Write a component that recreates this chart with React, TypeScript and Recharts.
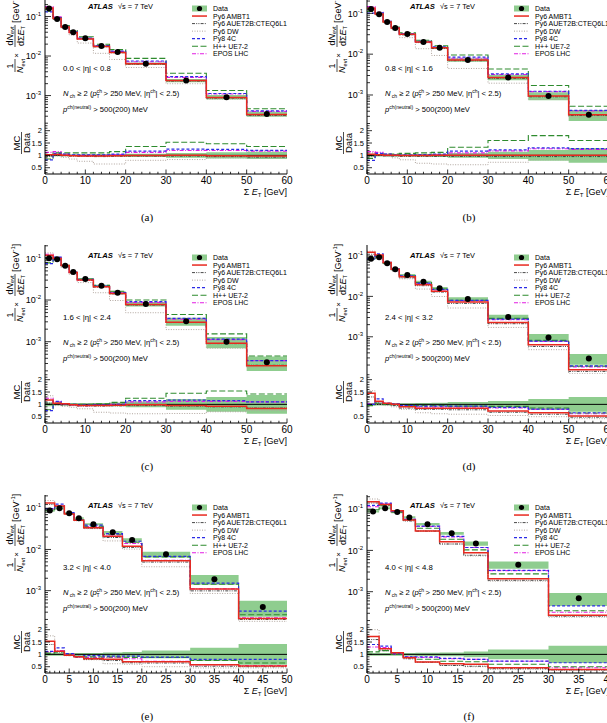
import React from 'react';
import { Area, ComposedChart, Line, ReferenceLine, Scatter, XAxis, YAxis } from 'recharts';

const FONT = '"Liberation Sans", Arial, Helvetica, sans-serif';
const BAND = '#8fcd8f';

/* ─────────────── bins and ticks ─────────────── */

const EDGES_60 = [0, 2, 4, 6, 8, 12, 16, 20, 30, 40, 50, 60];
const EDGES_50 = [0, 2, 4, 6, 8, 12, 16, 20, 30, 40, 50];
const EDGES_40 = [0, 2, 4, 6, 8, 12, 16, 20, 30, 40];

const X_TICKS_60 = [0, 2, 4, 6, 8, 10, 12, 14, 16, 18, 20, 22, 24, 26, 28, 30, 32, 34, 36, 38, 40, 42, 44, 46, 48, 50, 52, 54, 56, 58, 60];
const X_TICKS_50 = [0, 1, 2, 3, 4, 5, 6, 7, 8, 9, 10, 11, 12, 13, 14, 15, 16, 17, 18, 19, 20, 21, 22, 23, 24, 25, 26, 27, 28, 29, 30, 31, 32, 33, 34, 35, 36, 37, 38, 39, 40, 41, 42, 43, 44, 45, 46, 47, 48, 49, 50];
const X_TICKS_40 = [0, 1, 2, 3, 4, 5, 6, 7, 8, 9, 10, 11, 12, 13, 14, 15, 16, 17, 18, 19, 20, 21, 22, 23, 24, 25, 26, 27, 28, 29, 30, 31, 32, 33, 34, 35, 36, 37, 38, 39, 40];

const LOG_TICKS = [
  0.0001, 0.0002, 0.0003, 0.0004, 0.0005, 0.0006, 0.0007, 0.0008, 0.0009,
  0.001, 0.002, 0.003, 0.004, 0.005, 0.006, 0.007, 0.008, 0.009,
  0.01, 0.02, 0.03, 0.04, 0.05, 0.06, 0.07, 0.08, 0.09,
  0.1, 0.2, 0.3, 0.4,
];
const RATIO_TICKS = [0.3, 0.4, 0.5, 0.6, 0.7, 0.8, 0.9, 1, 1.1, 1.2, 1.3, 1.4, 1.5, 1.6, 1.7, 1.8, 1.9, 2, 2.1, 2.2];

/* ─────────────── (a) 0.0 < |eta| < 0.8 ─────────────── */
const A_DATA = [0.16, 0.086, 0.054, 0.04, 0.028, 0.018, 0.0126, 0.0064, 0.0024, 0.00091, 0.00034];
const A_ERR = [0.05, 0.04, 0.04, 0.04, 0.04, 0.05, 0.05, 0.07, 0.1, 0.13, 0.15];
const A_AMBT1 = [1.02, 1.03, 1.0, 0.98, 0.97, 0.97, 0.98, 0.99, 1.0, 0.98, 0.97];
const A_AUET = [0.95, 1.0, 0.98, 0.97, 0.96, 0.95, 0.96, 0.97, 0.97, 0.95, 0.93];
const A_DW = [1.0, 0.98, 0.92, 0.85, 0.76, 0.65, 0.65, 0.8, 0.83, 0.9, 0.9];
const A_PY8 = [0.82, 1.08, 1.05, 1.02, 1.02, 1.02, 1.05, 1.17, 1.25, 1.24, 1.2];
const A_HPP = [0.85, 1.1, 1.1, 1.1, 1.1, 1.1, 1.15, 1.36, 1.53, 1.47, 1.36];
const A_EPOS = [1.12, 1.15, 1.05, 1.0, 1.0, 1.0, 1.03, 1.12, 1.2, 1.2, 1.17];

/* ─────────────── (b) 0.8 < |eta| < 1.6 ─────────────── */
const B_DATA = [0.127, 0.095, 0.061, 0.044, 0.031, 0.02, 0.0143, 0.0072, 0.0027, 0.00095, 0.00033];
const B_ERR = [0.06, 0.05, 0.05, 0.05, 0.05, 0.06, 0.07, 0.1, 0.15, 0.22, 0.3];
const B_AMBT1 = [1.05, 1.02, 1.0, 1.0, 0.99, 0.99, 1.0, 1.0, 1.0, 1.0, 1.0];
const B_AUET = [0.97, 1.0, 0.98, 0.97, 0.96, 0.96, 0.96, 0.96, 0.95, 0.95, 0.95];
const B_DW = [1.1, 1.0, 0.95, 0.9, 0.82, 0.68, 0.65, 0.62, 0.72, 0.82, 0.85];
const B_PY8 = [0.8, 1.08, 1.05, 1.02, 1.02, 1.03, 1.05, 1.17, 1.22, 1.3, 1.27];
const B_HPP = [0.88, 1.05, 1.05, 1.05, 1.08, 1.1, 1.12, 1.33, 1.6, 1.8, 1.6];
const B_EPOS = [1.15, 1.12, 1.05, 1.0, 1.0, 1.0, 1.02, 1.1, 1.18, 1.27, 1.24];

/* ─────────────── (c) 1.6 < |eta| < 2.4 ─────────────── */
const C_DATA = [0.1, 0.095, 0.066, 0.047, 0.032, 0.022, 0.015, 0.008, 0.0031, 0.001, 0.00032];
const C_ERR = [0.08, 0.05, 0.05, 0.05, 0.05, 0.06, 0.08, 0.12, 0.22, 0.3, 0.38];
const C_AMBT1 = [1.18, 1.05, 1.02, 0.98, 0.95, 0.95, 0.96, 0.98, 0.95, 0.92, 0.83];
const C_AUET = [1.05, 1.0, 0.97, 0.95, 0.93, 0.93, 0.94, 0.95, 0.93, 0.9, 0.85];
const C_DW = [1.35, 0.95, 0.92, 0.88, 0.82, 0.68, 0.65, 0.62, 0.63, 0.7, 0.75];
const C_PY8 = [0.75, 1.12, 1.02, 1.0, 0.98, 0.98, 1.0, 1.15, 1.17, 1.15, 1.1];
const C_HPP = [0.78, 1.05, 1.03, 1.0, 1.0, 1.02, 1.08, 1.25, 1.45, 1.54, 1.42];
const C_EPOS = [1.25, 1.1, 1.02, 0.98, 0.95, 0.97, 1.0, 1.1, 1.12, 1.12, 1.1];

/* ─────────────── (d) 2.4 < |eta| < 3.2 ─────────────── */
const D_DATA = [0.085, 0.093, 0.066, 0.047, 0.034, 0.023, 0.016, 0.0086, 0.0031, 0.00096, 0.00029];
const D_ERR = [0.06, 0.05, 0.05, 0.05, 0.05, 0.06, 0.07, 0.1, 0.14, 0.22, 0.3];
const D_AMBT1 = [1.45, 1.13, 1.05, 1.0, 0.9, 0.84, 0.84, 0.84, 0.73, 0.66, 0.53];
const D_AUET = [1.3, 1.05, 1.0, 0.95, 0.85, 0.8, 0.8, 0.78, 0.68, 0.6, 0.48];
const D_DW = [1.55, 1.0, 0.95, 0.9, 0.8, 0.66, 0.62, 0.6, 0.55, 0.5, 0.42];
const D_PY8 = [1.0, 1.22, 1.05, 1.02, 0.95, 0.93, 0.93, 0.93, 0.88, 0.81, 0.66];
const D_HPP = [0.95, 1.05, 1.0, 1.0, 0.95, 0.95, 0.95, 0.93, 0.92, 0.85, 0.65];
const D_EPOS = [1.02, 1.1, 1.03, 1.0, 0.93, 0.9, 0.9, 0.9, 0.85, 0.8, 0.62];

/* ─────────────── (e) 3.2 < |eta| < 4.0 ─────────────── */
const E_DATA = [0.088, 0.1, 0.076, 0.057, 0.041, 0.026, 0.017, 0.0076, 0.0019, 0.0004];
const E_ERR = [0.06, 0.06, 0.06, 0.06, 0.06, 0.08, 0.1, 0.16, 0.27, 0.42];
const E_AMBT1 = [1.53, 1.13, 0.96, 0.9, 0.82, 0.8, 0.7, 0.7, 0.58, 0.53];
const E_AUET = [1.4, 1.1, 0.95, 0.88, 0.8, 0.75, 0.66, 0.65, 0.52, 0.5];
const E_DW = [1.75, 1.1, 1.0, 0.9, 0.78, 0.62, 0.6, 0.5, 0.45, 0.45];
const E_PY8 = [1.12, 1.26, 1.03, 0.92, 0.95, 0.93, 0.93, 0.89, 0.8, 0.8];
const E_HPP = [1.05, 1.1, 0.98, 0.92, 0.9, 0.9, 0.88, 0.87, 0.75, 0.65];
const E_EPOS = [1.1, 1.15, 1.0, 0.9, 0.88, 0.87, 0.82, 0.72, 0.58, 0.55];

/* ─────────────── (f) 4.0 < |eta| < 4.8 ─────────────── */
const F_DATA = [0.088, 0.105, 0.085, 0.063, 0.043, 0.026, 0.0147, 0.0045, 0.00069];
const F_ERR = [0.06, 0.06, 0.06, 0.06, 0.07, 0.08, 0.12, 0.2, 0.35];
const F_AMBT1 = [1.72, 1.23, 1.07, 0.86, 0.69, 0.62, 0.6, 0.46, 0.39];
const F_AUET = [1.6, 1.15, 1.0, 0.82, 0.68, 0.55, 0.52, 0.42, 0.37];
const F_DW = [2.0, 1.2, 1.0, 0.85, 0.7, 0.55, 0.5, 0.4, 0.35];
const F_PY8 = [1.4, 1.33, 1.03, 0.9, 0.9, 0.84, 0.8, 0.73, 0.66];
const F_HPP = [1.1, 1.15, 1.0, 0.88, 0.8, 0.72, 0.7, 0.6, 0.5];
const F_EPOS = [1.3, 1.28, 1.02, 0.9, 0.88, 0.82, 0.8, 0.72, 0.46];

/* ─────────────── styles ─────────────── */

const MODELS = [
  { key: 'dw', name: 'Py6 DW', color: '#b0a59e', dash: '1 1.5', width: 1 },
  { key: 'auet', name: 'Py6 AUET2B:CTEQ6L1', color: '#333333', dash: '3 1.2 1 1.2 1 1.2', width: 0.9 },
  { key: 'epos', name: 'EPOS LHC', color: '#e21ee2', dash: '4 1.5 1 1.5', width: 1.1 },
  { key: 'hpp', name: 'H++ UE7-2', color: '#2e8b2e', dash: '6 2.5', width: 1.1 },
  { key: 'py8', name: 'Py8 4C', color: '#2b2be6', dash: '3 2', width: 1.2 },
  { key: 'ambt1', name: 'Py6 AMBT1', color: '#e8291f', dash: undefined, width: 1.5 },
];
const LEGEND_ORDER = ['ambt1', 'auet', 'dw', 'py8', 'hpp', 'epos'];

interface Panel {
  id: string;
  eta: string;
  left: number;
  top: number;
  edges: number[];
  xMax: number;
  xTicks: number[];
  xMajor: number;
  yDomain: [number, number];
  data: number[];
  err: number[];
  ratios: Record<string, number[]>;
}

const PANELS: Panel[] = [
  { id: 'a', eta: '0.0 < |η| < 0.8', left: 0, top: -4, edges: EDGES_60, xMax: 60, xTicks: X_TICKS_60, xMajor: 10, yDomain: [1.8e-4, 0.33], data: A_DATA, err: A_ERR, ratios: { ambt1: A_AMBT1, auet: A_AUET, dw: A_DW, py8: A_PY8, hpp: A_HPP, epos: A_EPOS } },
  { id: 'b', eta: '0.8 < |η| < 1.6', left: 322, top: -4, edges: EDGES_60, xMax: 60, xTicks: X_TICKS_60, xMajor: 10, yDomain: [1.84e-4, 0.266], data: B_DATA, err: B_ERR, ratios: { ambt1: B_AMBT1, auet: B_AUET, dw: B_DW, py8: B_PY8, hpp: B_HPP, epos: B_EPOS } },
  { id: 'c', eta: '1.6 < |η| < 2.4', left: 0, top: 245, edges: EDGES_60, xMax: 60, xTicks: X_TICKS_60, xMajor: 10, yDomain: [1.68e-4, 0.209], data: C_DATA, err: C_ERR, ratios: { ambt1: C_AMBT1, auet: C_AUET, dw: C_DW, py8: C_PY8, hpp: C_HPP, epos: C_EPOS } },
  { id: 'd', eta: '2.4 < |η| < 3.2', left: 322, top: 245, edges: EDGES_60, xMax: 60, xTicks: X_TICKS_60, xMajor: 10, yDomain: [1.2e-4, 0.187], data: D_DATA, err: D_ERR, ratios: { ambt1: D_AMBT1, auet: D_AUET, dw: D_DW, py8: D_PY8, hpp: D_HPP, epos: D_EPOS } },
  { id: 'e', eta: '3.2 < |η| < 4.0', left: 0, top: 495, edges: EDGES_50, xMax: 50, xTicks: X_TICKS_50, xMajor: 5, yDomain: [1.55e-4, 0.21], data: E_DATA, err: E_ERR, ratios: { ambt1: E_AMBT1, auet: E_AUET, dw: E_DW, py8: E_PY8, hpp: E_HPP, epos: E_EPOS } },
  { id: 'f', eta: '4.0 < |η| < 4.8', left: 322, top: 495, edges: EDGES_40, xMax: 40, xTicks: X_TICKS_40, xMajor: 5, yDomain: [1.65e-4, 0.22], data: F_DATA, err: F_ERR, ratios: { ambt1: F_AMBT1, auet: F_AUET, dw: F_DW, py8: F_PY8, hpp: F_HPP, epos: F_EPOS } },
];

const PLOT_W = 242;
const MAIN_H = 129;
const RATIO_H = 49;
const Y_AXIS_W = 45;
const RIGHT_PAD = 12;
const AXIS = { stroke: '#000', strokeWidth: 1 };

// histogram rows at the bin edges; the last edge repeats the last bin so stepAfter closes it
function stepRows(p: Panel, ratio: boolean) {
  return p.edges.map((x, i) => {
    const j = Math.min(i, p.data.length - 1);
    const s = ratio ? 1 : p.data[j];
    const row: Record<string, unknown> = { x, band: [s * (1 - p.err[j]), s * (1 + p.err[j])] };
    MODELS.forEach((m) => {
      row[m.key] = p.ratios[m.key][j] * s;
    });
    return row;
  });
}

/* ─────────────── ticks (ROOT style, inside the frame) ─────────────── */

const xTick = (side: 'top' | 'bottom', major: number, len: number, labels: boolean) =>
  function XTick(props: any) {
    const { x, y, payload } = props;
    const v = payload.value as number;
    const isMajor = Math.abs(v / major - Math.round(v / major)) < 1e-6;
    const l = isMajor ? len : len / 2;
    const dir = side === 'bottom' ? -1 : 1;
    return (
      <g>
        <line x1={x} x2={x} y1={y} y2={y + dir * l} stroke="#000" strokeWidth={0.8} />
        {labels && isMajor && (
          <text x={x} y={y + 10} textAnchor="middle" fontSize={10} fontFamily={FONT} fill="#000">
            {v}
          </text>
        )}
      </g>
    );
  };

const logTick = (side: 'left' | 'right') =>
  function LogTick(props: any) {
    const { x, y, payload } = props;
    const v = payload.value as number;
    const e = Math.log10(v);
    const isMajor = Math.abs(e - Math.round(e)) < 1e-6;
    const dir = side === 'left' ? 1 : -1;
    const l = isMajor ? 6 : 3;
    return (
      <g>
        <line x1={x} x2={x + dir * l} y1={y} y2={y} stroke="#000" strokeWidth={0.8} />
        {side === 'left' && isMajor && (
          <text x={x - 4} y={y + 3.2} textAnchor="end" fontSize={9} fontFamily={FONT} fill="#000">
            10<tspan dy={-4} fontSize={6}>{Math.round(e)}</tspan>
          </text>
        )}
      </g>
    );
  };

const ratioTick = (side: 'left' | 'right') =>
  function RatioTick(props: any) {
    const { x, y, payload } = props;
    const v = payload.value as number;
    const isMajor = Math.abs(v * 2 - Math.round(v * 2)) < 1e-6;
    const dir = side === 'left' ? 1 : -1;
    const l = isMajor ? 5 : 2.5;
    return (
      <g>
        <line x1={x} x2={x + dir * l} y1={y} y2={y} stroke="#000" strokeWidth={0.8} />
        {side === 'left' && isMajor && (
          <text x={x - 3} y={y + 2.6} textAnchor="end" fontSize={7.5} fontFamily={FONT} fill="#000">
            {v}
          </text>
        )}
      </g>
    );
  };

function Dot(props: any) {
  return <circle cx={props.cx} cy={props.cy} r={3} fill="#000" />;
}

/* ─────────────── plots ─────────────── */

function MainPlot({ p }: { p: Panel }) {
  const rows = stepRows(p, false);
  const points = p.data.map((y, i) => ({ x: (p.edges[i] + p.edges[i + 1]) / 2, y }));
  const yTicks = LOG_TICKS.filter((v) => v >= p.yDomain[0] && v <= p.yDomain[1]);
  return (
    <ComposedChart width={Y_AXIS_W + PLOT_W + RIGHT_PAD} height={MAIN_H + 1} data={rows} margin={{ top: 0, right: RIGHT_PAD, bottom: 1, left: 0 }}>
      <XAxis xAxisId="b" dataKey="x" type="number" domain={[0, p.xMax]} allowDataOverflow ticks={p.xTicks} interval={0} height={0} tickSize={0} tickMargin={0} tickLine={false} axisLine={AXIS} tick={xTick('bottom', p.xMajor, 5, false)} />
      <XAxis xAxisId="t" orientation="top" type="number" domain={[0, p.xMax]} allowDataOverflow ticks={p.xTicks} interval={0} height={0} tickSize={0} tickMargin={0} tickLine={false} axisLine={AXIS} tick={xTick('top', p.xMajor, 5, false)} />
      <YAxis yAxisId="l" type="number" scale="log" domain={p.yDomain} allowDataOverflow ticks={yTicks} interval={0} width={Y_AXIS_W} tickSize={0} tickMargin={0} tickLine={false} axisLine={AXIS} tick={logTick('left')} />
      <YAxis yAxisId="r" orientation="right" type="number" scale="log" domain={p.yDomain} allowDataOverflow ticks={yTicks} interval={0} width={0} tickSize={0} tickMargin={0} tickLine={false} axisLine={AXIS} tick={logTick('right')} />
      <Area xAxisId="b" yAxisId="l" dataKey="band" type="stepAfter" fill={BAND} fillOpacity={1} stroke="none" isAnimationActive={false} />
      {MODELS.map((m) => (
        <Line key={m.key} xAxisId="b" yAxisId="l" dataKey={m.key} type="stepAfter" stroke={m.color} strokeWidth={m.width} strokeDasharray={m.dash} dot={false} activeDot={false} isAnimationActive={false} />
      ))}
      <Scatter xAxisId="b" yAxisId="l" data={points} dataKey="y" shape={Dot} isAnimationActive={false} />
    </ComposedChart>
  );
}

function RatioPlot({ p }: { p: Panel }) {
  const rows = stepRows(p, true);
  return (
    <ComposedChart width={Y_AXIS_W + PLOT_W + RIGHT_PAD} height={RATIO_H + 21} data={rows} margin={{ top: 0, right: RIGHT_PAD, bottom: 0, left: 0 }}>
      <XAxis xAxisId="b" dataKey="x" type="number" domain={[0, p.xMax]} allowDataOverflow ticks={p.xTicks} interval={0} height={21} tickSize={0} tickMargin={0} tickLine={false} axisLine={AXIS} tick={xTick('bottom', p.xMajor, 4.5, true)} />
      <XAxis xAxisId="t" orientation="top" type="number" domain={[0, p.xMax]} allowDataOverflow ticks={p.xTicks} interval={0} height={0} tickSize={0} tickMargin={0} tickLine={false} axisLine={AXIS} tick={xTick('top', p.xMajor, 4.5, false)} />
      <YAxis yAxisId="l" type="number" domain={[0.245, 2.23]} allowDataOverflow ticks={RATIO_TICKS} interval={0} width={Y_AXIS_W} tickSize={0} tickMargin={0} tickLine={false} axisLine={AXIS} tick={ratioTick('left')} />
      <YAxis yAxisId="r" orientation="right" type="number" domain={[0.245, 2.23]} allowDataOverflow ticks={RATIO_TICKS} interval={0} width={0} tickSize={0} tickMargin={0} tickLine={false} axisLine={AXIS} tick={ratioTick('right')} />
      <Area xAxisId="b" yAxisId="l" dataKey="band" type="stepAfter" fill={BAND} fillOpacity={1} stroke="none" isAnimationActive={false} />
      <ReferenceLine xAxisId="b" yAxisId="l" y={1} stroke="#000" strokeWidth={1} />
      {MODELS.map((m) => (
        <Line key={m.key} xAxisId="b" yAxisId="l" dataKey={m.key} type="stepAfter" stroke={m.color} strokeWidth={m.width} strokeDasharray={m.dash} dot={false} activeDot={false} isAnimationActive={false} />
      ))}
    </ComposedChart>
  );
}

/* ─────────────── labels, legend, titles ─────────────── */

function Annotations({ p }: { p: Panel }) {
  const lx = 192;
  const tx = 213;
  const ly = 12.5;
  const dy = 7.55;
  const x0 = Y_AXIS_W;
  return (
    <svg width={340} height={235} style={{ position: 'absolute', left: 0, top: 0, overflow: 'visible', pointerEvents: 'none' }} fontFamily={FONT}>
      {/* legend */}
      <rect x={lx} y={ly - 3} width={15} height={6} fill={BAND} />
      <circle cx={lx + 7.5} cy={ly} r={2.6} fill="#000" />
      <text x={tx} y={ly + 2.5} fontSize={7}>Data</text>
      {LEGEND_ORDER.map((k, i) => {
        const m = MODELS.find((mm) => mm.key === k)!;
        const y = ly + (i + 1) * dy;
        return (
          <g key={k}>
            <line x1={lx} x2={lx + 15} y1={y} y2={y} stroke={m.color} strokeWidth={m.width} strokeDasharray={m.dash} />
            <text x={tx} y={y + 2.5} fontSize={7}>{m.name}</text>
          </g>
        );
      })}

      {/* ATLAS label */}
      <text x={88} y={12.5} fontSize={7.6} fontWeight="bold" fontStyle="italic">ATLAS</text>
      <text x={118} y={12.5} fontSize={7.4}>√s = 7 TeV</text>

      {/* selection text */}
      <text x={63} y={74.5} fontSize={7.8}>{p.eta}</text>
      <text x={63} y={100} fontSize={7.6}>
        <tspan fontStyle="italic">N</tspan>
        <tspan fontSize={5} dy={2}> ch</tspan>
        <tspan dy={-2}> ≥ 2 (</tspan>
        <tspan fontStyle="italic">p</tspan>
        <tspan fontSize={5} dy={-3.5}>ch</tspan>
        <tspan fontSize={5} dx={-5.5} dy={5.5}>T</tspan>
        <tspan dx={2} dy={-2}> &gt; 250 MeV, |η</tspan>
        <tspan fontSize={5} dy={-3.5}>ch</tspan>
        <tspan dy={3.5}>| &lt; 2.5)</tspan>
      </text>
      <text x={63} y={116} fontSize={7.6}>
        <tspan fontStyle="italic">p</tspan>
        <tspan fontSize={5} dy={-3.5}>ch(neutral)</tspan>
        <tspan dy={3.5}> &gt; 500(200) MeV</tspan>
      </text>

      {/* y title, main */}
      <g transform="translate(0, 77) rotate(-90)" fontSize={9}>
        <text x={7} y={12.5} textAnchor="middle">1</text>
        <line x1={1} x2={14} y1={15} y2={15} stroke="#000" strokeWidth={0.7} />
        <text x={7} y={23} textAnchor="middle">
          <tspan fontStyle="italic">N</tspan>
          <tspan fontSize={5.5} dy={1.5}>evt</tspan>
        </text>
        <text x={17.5} y={18.5} textAnchor="middle" fontSize={8}>×</text>
        <text x={37} y={12.5} textAnchor="middle">
          d<tspan fontStyle="italic">N</tspan>
          <tspan fontSize={5.5} dy={1.5}>evt</tspan>
        </text>
        <line x1={26} x2={48} y1={15} y2={15} stroke="#000" strokeWidth={0.7} />
        <text x={37} y={23.5} textAnchor="middle">
          dΣ<tspan fontStyle="italic">E</tspan>
          <tspan fontSize={5.5} dy={1.5}>T</tspan>
        </text>
        <text x={50} y={19}>
          [GeV<tspan fontSize={6} dy={-4}>-1</tspan>
          <tspan dy={4}>]</tspan>
        </text>
      </g>

      {/* y title, ratio */}
      <g transform={`translate(0, ${MAIN_H + 18}) rotate(-90)`} fontSize={9.5}>
        <text x={0} y={19.5} textAnchor="middle">MC</text>
        <line x1={-11} x2={11} y1={21.5} y2={21.5} stroke="#000" strokeWidth={0.7} />
        <text x={0} y={30} textAnchor="middle">Data</text>
      </g>

      {/* x title */}
      <text x={x0 + PLOT_W} y={199} textAnchor="end" fontSize={9}>
        Σ <tspan fontStyle="italic">E</tspan>
        <tspan fontSize={6} dy={2}>T</tspan>
        <tspan dy={-2}> [GeV]</tspan>
      </text>

      {/* caption */}
      <text x={147} y={225} textAnchor="middle" fontSize={11} fontFamily='"Liberation Serif", "DejaVu Serif", serif'>
        ({p.id})
      </text>
    </svg>
  );
}

function PanelView({ p }: { p: Panel }) {
  return (
    <div style={{ position: 'absolute', left: p.left, top: p.top, width: 340, height: 235 }}>
      <div style={{ position: 'absolute', left: 0, top: 0 }}>
        <MainPlot p={p} />
      </div>
      <div style={{ position: 'absolute', left: 0, top: MAIN_H }}>
        <RatioPlot p={p} />
      </div>
      <Annotations p={p} />
    </div>
  );
}

export default function App() {
  return (
    <div style={{ position: 'absolute', left: 0, top: 0, width: 607, height: 723, overflow: 'hidden', background: '#fff' }}>
      {PANELS.map((p) => (
        <PanelView key={p.id} p={p} />
      ))}
    </div>
  );
}
